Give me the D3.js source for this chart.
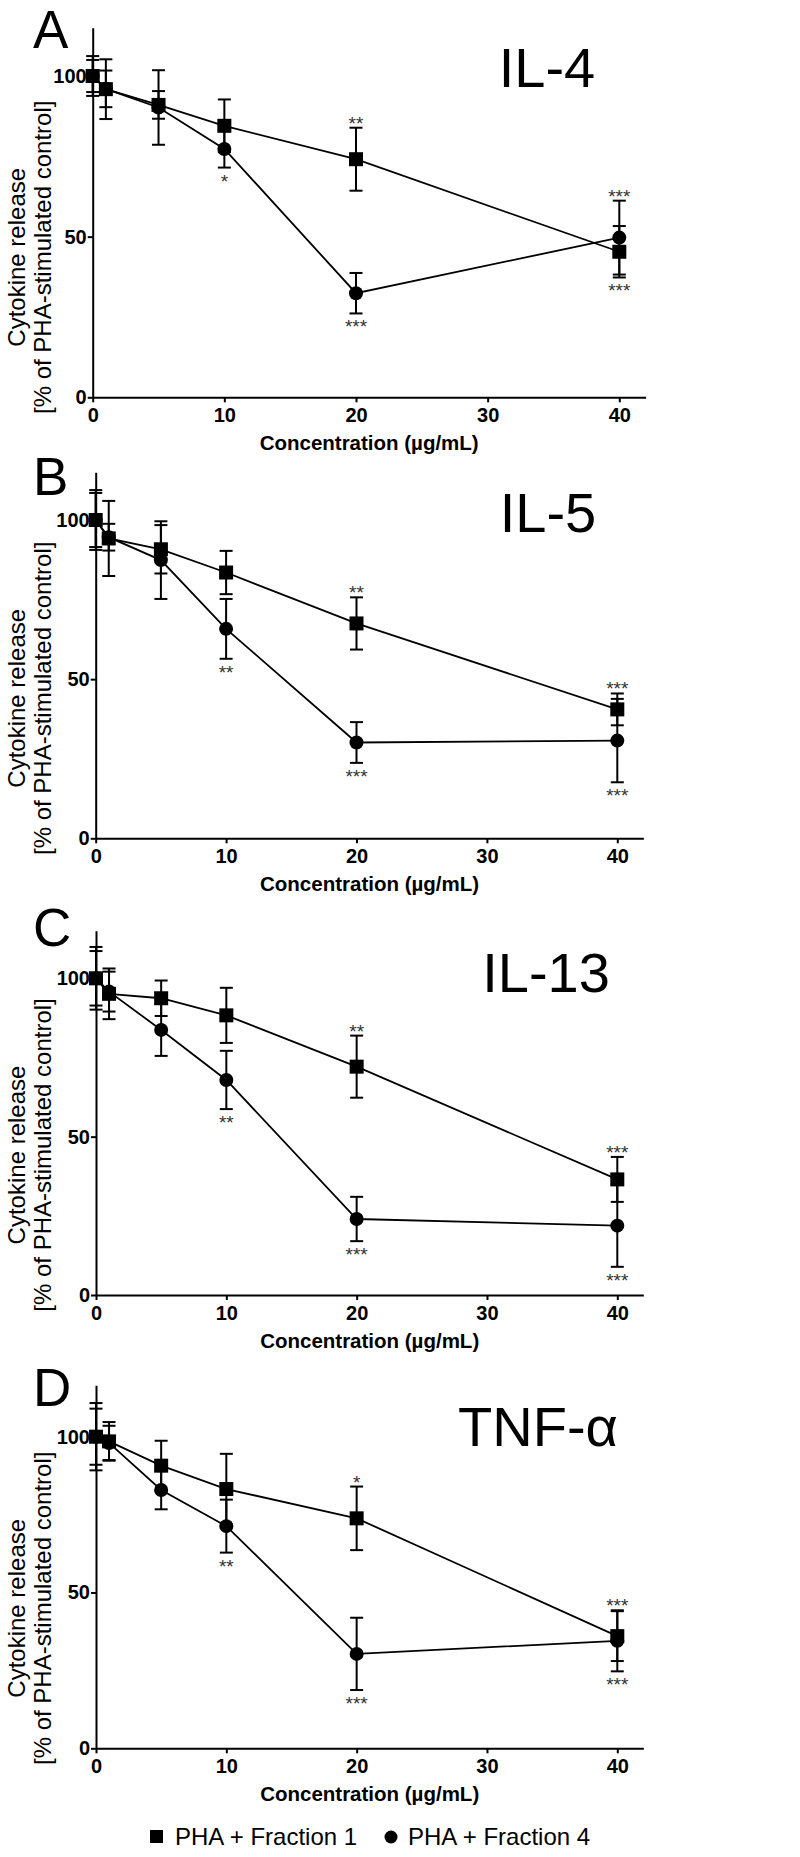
<!DOCTYPE html>
<html>
<head>
<meta charset="utf-8">
<script src="https://cdn.jsdelivr.net/npm/d3@7"></script>
<style>
  html, body { margin: 0; padding: 0; background: #fff; }
  svg { display: block; font-family: "Liberation Sans", Arial, sans-serif; }
</style>
</head>
<body>
<script>
// ---------------- DATA ----------------
const concentrations = [0, 1, 5, 10, 20, 40];
const xTickValues = [0, 10, 20, 30, 40];
const yTickValues = [0, 50, 100];
const panelLetters = ["A", "B", "C", "D"];
const cytokineNames = ["IL-4", "IL-5", "IL-13", "TNF-α"];
const seriesNames = ["PHA + Fraction 1", "PHA + Fraction 4"];
const xAxisTitle = "Concentration (µg/mL)";
const yAxisTitleLines = ["Cytokine release", "[% of PHA-stimulated control]"];

// IL-4
const il4Fraction1 = [100, 95.9, 91.0, 84.5, 74.1, 45.3];
const il4Fraction1Err = [5.0, 9.3, 4.3, 8.2, 9.8, 8.0];
const il4Fraction4 = [100, 96.0, 90.2, 77.3, 32.4, 49.7];
const il4Fraction4Err = [6.2, 5.7, 11.6, 5.8, 6.3, 11.5];
const il4Stars = [
  { conc: 10, series: 1, side: "below", text: "*" },
  { conc: 20, series: 0, side: "above", text: "**" },
  { conc: 20, series: 1, side: "below", text: "***" },
  { conc: 40, series: 1, side: "above", text: "***" },
  { conc: 40, series: 0, side: "below", text: "***" }
];

// IL-5
const il5Fraction1 = [100, 94.2, 90.8, 83.5, 67.5, 40.5];
const il5Fraction1Err = [8.5, 11.8, 7.6, 6.8, 8.2, 5.0];
const il5Fraction4 = [100, 94.6, 87.4, 65.8, 30.1, 30.7];
const il5Fraction4Err = [9.4, 4.2, 12.2, 9.4, 6.4, 13.1];
const il5Stars = [
  { conc: 10, series: 1, side: "below", text: "**" },
  { conc: 20, series: 0, side: "above", text: "**" },
  { conc: 20, series: 1, side: "below", text: "***" },
  { conc: 40, series: 0, side: "above", text: "***" },
  { conc: 40, series: 1, side: "below", text: "***" }
];

// IL-13
const il13Fraction1 = [100, 95.1, 93.7, 88.3, 72.1, 36.5];
const il13Fraction1Err = [8.6, 8.0, 5.6, 8.7, 9.8, 7.1];
const il13Fraction4 = [100, 95.8, 83.7, 67.9, 24.0, 21.9];
const il13Fraction4Err = [9.9, 6.3, 8.2, 9.2, 7.0, 13.0];
const il13Stars = [
  { conc: 10, series: 1, side: "below", text: "**" },
  { conc: 20, series: 0, side: "above", text: "**" },
  { conc: 20, series: 1, side: "below", text: "***" },
  { conc: 40, series: 0, side: "above", text: "***" },
  { conc: 40, series: 1, side: "below", text: "***" }
];

// TNF-α
const tnfFraction1 = [100, 98.5, 90.7, 83.2, 73.8, 36.0];
const tnfFraction1Err = [9.0, 6.2, 8.0, 11.3, 10.2, 8.0];
const tnfFraction4 = [100, 98.0, 82.9, 71.3, 30.3, 34.5];
const tnfFraction4Err = [10.8, 5.5, 6.2, 8.5, 11.6, 9.8];
const tnfStars = [
  { conc: 10, series: 1, side: "below", text: "**" },
  { conc: 20, series: 0, side: "above", text: "*" },
  { conc: 20, series: 1, side: "below", text: "***" },
  { conc: 40, series: 1, side: "above", text: "***" },
  { conc: 40, series: 1, side: "below", text: "***" }
];

// ---------------- LAYOUT ----------------
const layout = [
  { x0: 92.7, x40: 619.3, y0: 397.3, y100: 76.0,  yMax: 115, letterY: 48,   titleY: 87,   titleX: 547 },
  { x0: 95.7, x40: 617.3, y0: 838.3, y100: 520.0, yMax: 115, letterY: 495,  titleY: 532,  titleX: 548 },
  { x0: 96.0, x40: 617.3, y0: 1295,  y100: 978.3, yMax: 115, letterY: 946,  titleY: 992,  titleX: 546 },
  { x0: 96.0, x40: 617.3, y0: 1748.3,y100: 1436.7,yMax: 116.5, letterY: 1406, titleY: 1446, titleX: 538 }
];

const panels = [
  { f1: il4Fraction1, f1e: il4Fraction1Err, f4: il4Fraction4, f4e: il4Fraction4Err, stars: il4Stars },
  { f1: il5Fraction1, f1e: il5Fraction1Err, f4: il5Fraction4, f4e: il5Fraction4Err, stars: il5Stars },
  { f1: il13Fraction1, f1e: il13Fraction1Err, f4: il13Fraction4, f4e: il13Fraction4Err, stars: il13Stars },
  { f1: tnfFraction1, f1e: tnfFraction1Err, f4: tnfFraction4, f4e: tnfFraction4Err, stars: tnfStars }
];

const W = 800, H = 1857;
const svg = d3.select("body").append("svg").attr("width", W).attr("height", H);
svg.append("rect").attr("width", W).attr("height", H).attr("fill", "#fff");

const capHalf = 6.5;
const sq = 14, cr = 7;
const starSize = 19;

panels.forEach((p, i) => {
  const L = layout[i];
  const pxPerX = (L.x40 - L.x0) / 40;
  const pxPerY = (L.y0 - L.y100) / 100;
  const x = d3.scaleLinear().domain([0, 42]).range([L.x0, L.x0 + 42 * pxPerX]);
  const y = d3.scaleLinear().domain([0, L.yMax]).range([L.y0, L.y0 - L.yMax * pxPerY]);
  const g = svg.append("g");

  // axes
  const xa = g.append("g").attr("transform", `translate(0,${L.y0})`)
    .call(d3.axisBottom(x).tickValues(xTickValues).tickSize(5).tickSizeOuter(0).tickPadding(6).tickFormat(d3.format("d")));
  const ya = g.append("g").attr("transform", `translate(${L.x0},0)`)
    .call(d3.axisLeft(y).tickValues(yTickValues).tickSize(5).tickSizeOuter(0).tickPadding(1).tickFormat(d3.format("d")));
  [xa, ya].forEach(a => {
    a.select(".domain").attr("stroke", "#000").attr("stroke-width", 2);
    a.selectAll(".tick line").attr("stroke", "#000").attr("stroke-width", 2);
    a.selectAll(".tick text").attr("fill", "#000").attr("font-size", 20).attr("font-weight", "bold")
      .attr("font-family", "'Liberation Sans', Arial, sans-serif");
  });

  // axis titles
  g.append("text").attr("x", (L.x0 + x.range()[1]) / 2).attr("y", L.y0 + 53)
    .attr("text-anchor", "middle").attr("font-size", 20.5).attr("font-weight", "bold")
    .text(xAxisTitle);
  const yc = L.y0 - 140;
  yAxisTitleLines.forEach((t, k) => {
    g.append("text").attr("transform", `translate(${25 + k * 26},${yc}) rotate(-90)`)
      .attr("text-anchor", "middle").attr("font-size", 24).text(t);
  });

  // panel letter and title
  g.append("text").attr("x", 33).attr("y", L.letterY).attr("font-size", 53).text(panelLetters[i]);
  g.append("text").attr("x", L.titleX).attr("y", L.titleY).attr("text-anchor", "middle")
    .attr("font-size", 56).text(cytokineNames[i]);

  const series = [
    concentrations.map((c, j) => ({ c, v: p.f1[j], e: p.f1e[j] })),
    concentrations.map((c, j) => ({ c, v: p.f4[j], e: p.f4e[j] }))
  ];

  // error bars
  series.forEach(s => {
    const eb = g.append("g").attr("stroke", "#000").attr("stroke-width", 2);
    s.forEach(d => {
      eb.append("line").attr("x1", x(d.c)).attr("x2", x(d.c)).attr("y1", y(d.v - d.e)).attr("y2", y(d.v + d.e));
      eb.append("line").attr("x1", x(d.c) - capHalf).attr("x2", x(d.c) + capHalf).attr("y1", y(d.v - d.e)).attr("y2", y(d.v - d.e));
      eb.append("line").attr("x1", x(d.c) - capHalf).attr("x2", x(d.c) + capHalf).attr("y1", y(d.v + d.e)).attr("y2", y(d.v + d.e));
    });
  });

  // lines
  const line = d3.line().x(d => x(d.c)).y(d => y(d.v));
  series.forEach(s => {
    g.append("path").datum(s).attr("d", line).attr("fill", "none").attr("stroke", "#000").attr("stroke-width", 1.8);
  });

  // markers: circles then squares
  g.selectAll(null).data(series[1]).enter().append("circle")
    .attr("cx", d => x(d.c)).attr("cy", d => y(d.v)).attr("r", cr).attr("fill", "#000");
  g.selectAll(null).data(series[0]).enter().append("rect")
    .attr("x", d => x(d.c) - sq / 2).attr("y", d => y(d.v) - sq / 2)
    .attr("width", sq).attr("height", sq).attr("fill", "#000");

  // significance stars
  p.stars.forEach(st => {
    const j = concentrations.indexOf(st.conc);
    const s = series[st.series][j];
    const capY = st.side === "above" ? y(s.v + s.e) - 9 : y(s.v - s.e) + 9;
    g.append("text").attr("x", x(st.conc)).attr("y", capY + 0.58 * starSize)
      .attr("text-anchor", "middle").attr("font-size", starSize).attr("fill", "#333").text(st.text);
  });
});

// legend
const lg = svg.append("g");
lg.append("rect").attr("x", 150).attr("y", 1830).attr("width", 13).attr("height", 13).attr("fill", "#000");
lg.append("text").attr("x", 175).attr("y", 1845).attr("font-size", 24).text(seriesNames[0]);
lg.append("circle").attr("cx", 391).attr("cy", 1837).attr("r", 6.5).attr("fill", "#000");
lg.append("text").attr("x", 408).attr("y", 1845).attr("font-size", 24).text(seriesNames[1]);
</script>
</body>
</html>
